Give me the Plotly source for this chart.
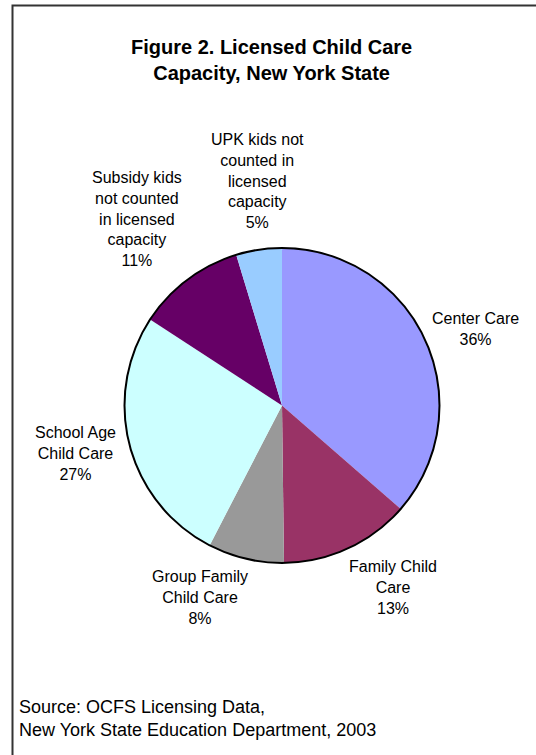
import plotly.graph_objects as go

W, H = 536, 755

# Data
categories = ["Center Care", "Family Child Care", "Group Family Child Care",
              "School Age Child Care", "Subsidy kids not counted in licensed capacity",
              "UPK kids not counted in licensed capacity"]
values = [36.4, 13.4, 7.8, 26.6, 11.1, 4.7]
label_texts = ["Center Care", "Family Child<br>Care", "Group Family<br>Child Care",
               "School Age<br>Child Care", "Subsidy kids<br>not counted<br>in licensed<br>capacity",
               "UPK kids not<br>counted in<br>licensed<br>capacity"]
colors = ["#9999FF", "#993366", "#999999", "#CCFFFF", "#660066", "#99CCFF"]

# Layout positions (pixels)
cx, cy, r = 282, 405.5, 157.5
label_pos = [(475, 329), (393, 587), (200, 597), (75, 453), (137, 218.5), (257, 181)]

def px(x):
    return x / W

def py(y):
    return 1 - y / H

fig = go.Figure(go.Pie(
    labels=categories,
    values=values,
    sort=False,
    direction="clockwise",
    rotation=0,
    textinfo="none",
    hoverinfo="label+percent",
    marker=dict(colors=colors, line=dict(width=0)),
    domain=dict(x=[px(cx - r), px(cx + r)], y=[py(cy + r), py(cy - r)]),
    showlegend=False,
))

font = "Liberation Sans, Arial, sans-serif"
total = sum(values)
annotations = []
for txt, v, (x, y) in zip(label_texts, values, label_pos):
    annotations.append(dict(
        text=f"{txt}<br>{int(100 * v / total + 0.5)}%",
        x=px(x), y=py(y), xref="paper", yref="paper",
        xanchor="center", yanchor="middle", showarrow=False, align="center",
        font=dict(family=font, size=16, color="#000"),
    ))

annotations.append(dict(
    text="<b>Figure 2. Licensed Child Care<br>Capacity, New York State</b>",
    x=px(271), y=py(59.5), xref="paper", yref="paper",
    xanchor="center", yanchor="middle", showarrow=False, align="center",
    font=dict(family=font, size=20, color="#000"),
))
annotations.append(dict(
    text="Source: OCFS Licensing Data,<br>New York State Education Department, 2003",
    x=px(17), y=py(718.5), xref="paper", yref="paper",
    xanchor="left", yanchor="middle", showarrow=False, align="left",
    font=dict(family=font, size=18, color="#000"),
))

shapes = [
    dict(type="circle", xref="paper", yref="paper",
         x0=px(cx - r), x1=px(cx + r), y0=py(cy + r), y1=py(cy - r),
         line=dict(color="#000", width=2)),
    dict(type="rect", xref="paper", yref="paper",
         x0=px(12.5), x1=px(W + 20), y0=py(H + 20), y1=py(5.5),
         line=dict(color="#333", width=2)),
]

fig.update_layout(
    width=W, height=H,
    margin=dict(l=0, r=0, t=0, b=0),
    paper_bgcolor="white", plot_bgcolor="white",
    annotations=annotations, shapes=shapes,
)

fig.write_html("out.html")
